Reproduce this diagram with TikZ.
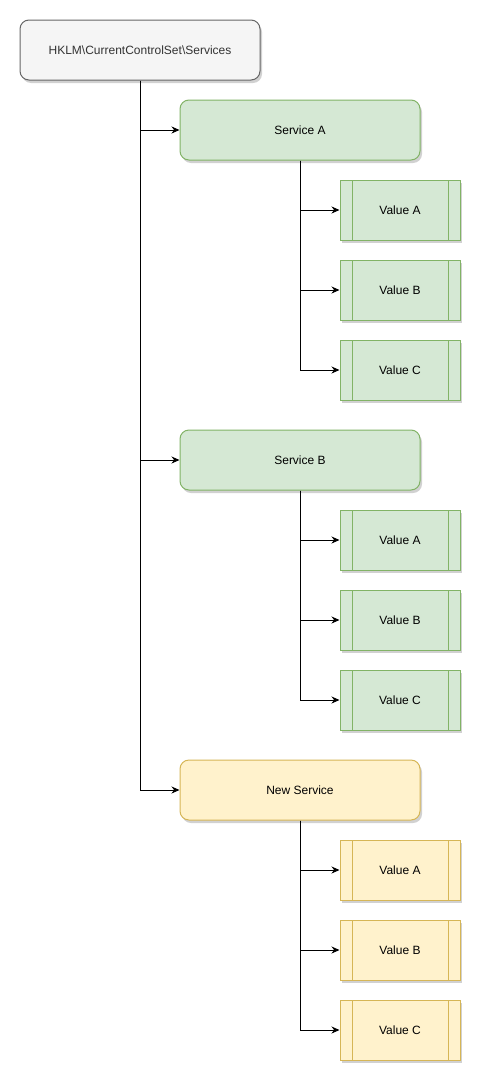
\documentclass[tikz,border=0pt]{standalone}
\usepackage{fontspec}
\setmainfont{Liberation Sans}
\usepackage{tikz}
\usetikzlibrary{arrows.meta,shadows}
\definecolor{rootfill}{HTML}{F5F5F5}
\definecolor{rootline}{HTML}{666666}
\definecolor{roottext}{HTML}{333333}
\definecolor{grfill}{HTML}{D5E8D4}
\definecolor{grline}{HTML}{82B366}
\definecolor{ylfill}{HTML}{FFF2CC}
\definecolor{ylline}{HTML}{D6B656}
\tikzset{
  keybox/.style={rectangle, rounded corners=9pt, draw=#1line, fill=#1fill, line width=1pt,
                 minimum width=240pt, minimum height=60pt, align=center,
                 font=\fontsize{12}{14}\selectfont,
                 drop shadow={shadow xshift=2pt, shadow yshift=-3pt, opacity=0.18, fill=black}},
  valbox/.style={rectangle, draw=#1line, fill=#1fill, line width=1pt,
                 minimum width=120pt, minimum height=60pt, align=center,
                 font=\fontsize{12}{14}\selectfont,
                 drop shadow={shadow xshift=2pt, shadow yshift=-3pt, opacity=0.18, fill=black},
                 path picture={
                   \draw[#1line, line width=1pt]
                     ([xshift=12pt]path picture bounding box.north west) -- ([xshift=12pt]path picture bounding box.south west)
                     ([xshift=-12pt]path picture bounding box.north east) -- ([xshift=-12pt]path picture bounding box.south east);
                 }},
  arr/.style={-{Stealth[length=8pt, width=7pt]}, line width=1pt, draw=black},
}
\begin{document}
\begin{tikzpicture}[x=1pt, y=-1pt]
\useasboundingbox[fill=white] (0,0) rectangle (487,1087);
% registry root
\node[keybox=root, text=roottext] (root) at (140,50) {HKLM\textbackslash CurrentControlSet\textbackslash Services};
% services
\node[keybox=gr] (sa) at (300,130) {Service A};
\node[keybox=gr] (sb) at (300,460) {Service B};
\node[keybox=yl] (sn) at (300,790) {New Service};
% values of Service A
\node[valbox=gr] (va1) at (400,210) {Value A};
\node[valbox=gr] (va2) at (400,290) {Value B};
\node[valbox=gr] (va3) at (400,370) {Value C};
% values of Service B
\node[valbox=gr] (vb1) at (400,540) {Value A};
\node[valbox=gr] (vb2) at (400,620) {Value B};
\node[valbox=gr] (vb3) at (400,700) {Value C};
% values of New Service
\node[valbox=yl] (vn1) at (400,870) {Value A};
\node[valbox=yl] (vn2) at (400,950) {Value B};
\node[valbox=yl] (vn3) at (400,1030) {Value C};
% connectors
\draw[arr] (root.south) |- (sa.west);
\draw[arr] (root.south) |- (sb.west);
\draw[arr] (root.south) |- (sn.west);
\draw[arr] (sa.south) |- (va1.west);
\draw[arr] (sa.south) |- (va2.west);
\draw[arr] (sa.south) |- (va3.west);
\draw[arr] (sb.south) |- (vb1.west);
\draw[arr] (sb.south) |- (vb2.west);
\draw[arr] (sb.south) |- (vb3.west);
\draw[arr] (sn.south) |- (vn1.west);
\draw[arr] (sn.south) |- (vn2.west);
\draw[arr] (sn.south) |- (vn3.west);
\end{tikzpicture}
\end{document}
